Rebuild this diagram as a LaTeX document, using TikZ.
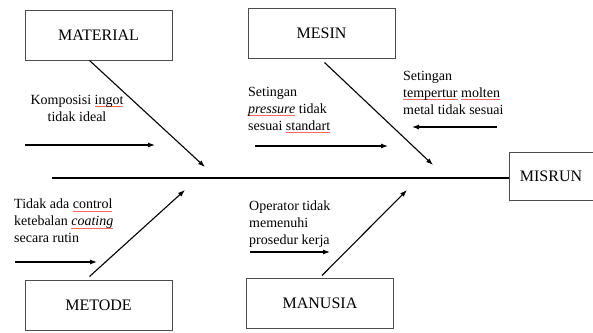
\documentclass[tikz,border=0pt]{standalone}
\usepackage{fontspec}
\setmainfont{Liberation Serif}
\usetikzlibrary{arrows.meta}
\newcommand{\spl}[1]{\setbox0\hbox{#1}\rlap{\textcolor{red!60}{\rule[-2.5pt]{\wd0}{0.6pt}}}\box0{}}
\tikzset{
    cause/.style={draw=black!70,line width=1pt,minimum width=147pt,minimum height=50pt,font=\fontsize{16}{18}\selectfont},
    note/.style={anchor=north west,align=left,inner sep=0pt,font=\fontsize{14}{17}\selectfont},
    bone/.style={line width=1.1pt,-{Latex[length=7pt,width=5pt]}},
    sub/.style={line width=1.1pt,-{Latex[length=7pt,width=5pt]}}
}

\begin{document}
\begin{tikzpicture}[x=1pt,y=-1pt]
    \useasboundingbox (0,0) rectangle (593,332);
    % boxes
    \node[cause] (material) at (98.5,35) {MATERIAL};
    \node[cause] (mesin) at (321.5,33) {MESIN};
    \node[cause] (metode) at (98.5,305) {METODE};
    \node[cause] (manusia) at (320,303) {MANUSIA};
    \node[cause,minimum width=84pt,minimum height=48pt] (misrun) at (551,176) {MISRUN};
    % spine
    \coordinate (tail) at (52,178);
    \draw[line width=1.5pt] (tail) -- (tail -| misrun.west);
    % main bones
    \coordinate (m1) at (205,167);
    \coordinate (m2) at (433,165);
    \coordinate (m3) at (185,190);
    \coordinate (m4) at (407,190);
    \draw[bone] (material.south west) ++(65,0) coordinate (s1) -- (m1);
    \draw[bone] (mesin.south west) ++(77,4) coordinate (s2) -- (m2);
    \draw[bone] (metode.north west) ++(65,-3) coordinate (s3) -- (m3);
    \draw[bone] (manusia.north west) ++(76,-2) coordinate (s4) -- (m4);
    % causes
    \node[note,anchor=center,align=center] (t1) at (77,108) {Komposisi \spl{ingot}\\tidak ideal};
    \node[note] (t2) at (248,87) {Setingan\\\spl{\emph{pressure}} tidak\\sesuai \spl{standart}};
    \node[note] (t3) at (403,71) {Setingan\\\spl{tempertur} \spl{molten}\\metal tidak sesuai};
    \node[note] (t4) at (14,199) {Tidak ada \spl{control}\\ketebalan \spl{\emph{coating}}\\secara rutin};
    \node[note] (t5) at (249,201) {Operator tidak\\memenuhi\\prosedur kerja};
    \coordinate (a1) at (25,145);  \coordinate (b1) at (155,145);
    \coordinate (a2) at (255,146); \coordinate (b2) at (388,146);
    \coordinate (a3) at (497,127); \coordinate (b3) at (412,127);
    \coordinate (a4) at (15,262);  \coordinate (b4) at (97,262);
    \coordinate (a5) at (250,252); \coordinate (b5) at (330,252);
    \foreach \i in {1,...,5}
        \draw[sub] (a\i) -- (b\i);
\end{tikzpicture}
\end{document}
